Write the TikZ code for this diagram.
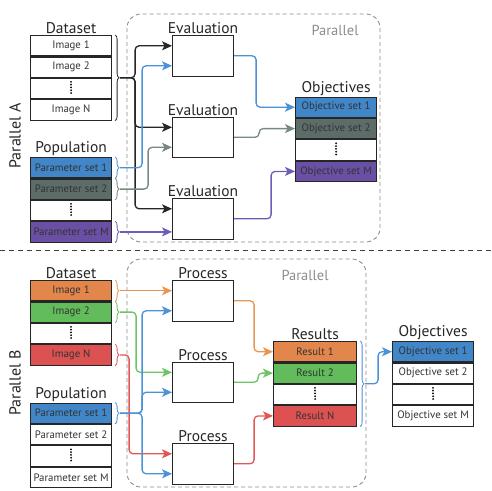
\documentclass[tikz,border=0pt]{standalone}
\usepackage{fontspec}
\setmainfont{PT Sans}
\usetikzlibrary{positioning,calc,arrows.meta,decorations.pathreplacing}
\definecolor{setblue}{RGB}{64,134,200}
\definecolor{setgray}{RGB}{92,108,104}
\definecolor{setpurple}{RGB}{106,80,164}
\definecolor{setorange}{RGB}{226,134,76}
\definecolor{setgreen}{RGB}{98,188,92}
\definecolor{setred}{RGB}{220,82,82}
\definecolor{lineblue}{RGB}{76,146,214}
\definecolor{linegray}{RGB}{122,136,132}
\definecolor{linepurple}{RGB}{112,92,182}
\definecolor{lineorange}{RGB}{232,150,82}
\definecolor{linegreen}{RGB}{108,196,100}
\definecolor{linered}{RGB}{226,86,86}
\tikzset{
	cell/.style={draw=black!85, line width=1.1pt, minimum width=81pt, minimum height=20.3pt, inner sep=0pt, font=\fontsize{10.8}{13}\selectfont, text=black!80},
	title/.style={font=\fontsize{15.5}{18}\selectfont, text=black!85, inner sep=1pt},
	procbox/.style={draw=black!85, line width=1.1pt, minimum width=61pt, minimum height=40.5pt, inner sep=0pt},
	link/.style={line width=1.3pt, rounded corners=4pt, -{Stealth[length=10pt,width=9pt,inset=2.5pt]}},
	brc/.style={decorate, decoration={brace, amplitude=4pt}, line width=0.8pt},
	dotline/.style={line width=2pt, line cap=round, dash pattern=on 0pt off 2.8pt},
	parbox/.style={draw=black!45, line width=0.9pt, rounded corners=14pt, dash pattern=on 4pt off 3pt},
}
\begin{document}
\begin{tikzpicture}[x=1pt,y=-1pt]
\useasboundingbox (0,0) rectangle (492,490);

% ---- Parallel A ----
\node[rotate=90, font=\fontsize{16}{19}\selectfont, text=black!85] (parA) at (15,136) {Parallel A};
\draw[parbox] (127,14) rectangle (380,242);
\node[font=\fontsize{14.5}{17}\selectfont, text=black!45] (parTa) at (335,30) {Parallel};

\node[cell, anchor=north west] (ds1) at (30,35) {Image 1};
\node[cell, below=0pt of ds1] (ds2) {Image 2};
\node[cell, below=0pt of ds2] (dsd) {};
\node[cell, below=0pt of dsd] (dsN) {Image N};
\node[title, above=0pt of ds1] (dsT) {Dataset};

\node[cell, fill=setblue, anchor=north west] (pop1) at (30,157) {Parameter set 1};
\node[cell, fill=setgray, below=0pt of pop1] (pop2) {Parameter set 2};
\node[cell, below=0pt of pop2] (popd) {};
\node[cell, fill=setpurple, below=0pt of popd] (popM) {Parameter set M};
\node[title, above=0pt of pop1] (popT) {Population};

\node[procbox, anchor=north west] (ev1) at (172,35) {};
\node[procbox, anchor=north west] (ev2) at (172,116.5) {};
\node[procbox, anchor=north west] (ev3) at (172,198) {};
\foreach \e in {ev1,ev2,ev3}
	\node[title, above=0pt of \e] (\e T) {Evaluation};

\node[cell, fill=setblue, anchor=north west] (obj1) at (295,96.5) {Objective set 1};
\node[cell, fill=setgray, below=0pt of obj1] (obj2) {Objective set 2};
\node[cell, below=0pt of obj2] (objd) {};
\node[cell, fill=setpurple, below=0pt of objd] (objM) {Objective set M};
\node[title, above=0pt of obj1] (objT) {Objectives};

\foreach \d in {dsd,popd,objd}
	\draw[dotline] ([yshift=-4pt]\d.north) -- ([yshift=4pt]\d.south);

% braces
\draw[brc, black!85] ([xshift=3pt]ds1.north east) -- ([xshift=3pt]dsN.south east);
\coordinate (dsb) at ($(ds1.north east)!.5!(dsN.south east)+(8,0)$);
\draw[brc, lineblue] ([xshift=3pt]pop1.north east) -- ([xshift=3pt]pop1.south east);
\coordinate (pb1) at ($(pop1.east)+(8,0)$);
\draw[brc, linegray] ([xshift=3pt]pop2.north east) -- ([xshift=3pt]pop2.south east);
\coordinate (pb2) at ($(pop2.east)+(8,0)$);
\draw[brc, linepurple] ([xshift=3pt]popM.north east) -- ([xshift=3pt]popM.south east);
\coordinate (pbM) at ($(popM.east)+(8,0)$);

\foreach \e in {ev1,ev2,ev3}
	\draw[link, black!85] (dsb) -- ++(15,0) |- ([yshift=10pt]\e.west);
\draw[link, lineblue] (pb1) -- ++(22,0) |- ([yshift=-10pt]ev1.west);
\draw[link, linegray] (pb2) -- ++(28,0) |- ([yshift=-10pt]ev2.west);
\draw[link, linepurple] (pbM) -- (pbM -| ev3.west);
\draw[link, lineblue] (ev1.east) -- ++(22,0) |- (obj1.west);
\draw[link, linegray] (ev2.east) -- ++(25,0) |- (obj2.west);
\draw[link, linepurple] (ev3.east) -- ++(37,0) |- (objM.west);

% divider
\draw[black!75, line width=1pt, dash pattern=on 5pt off 4pt] (0,250) -- (492,250);

% ---- Parallel B ----
\node[rotate=90, font=\fontsize{16}{19}\selectfont, text=black!85] (parB) at (15,383) {Parallel B};
\draw[parbox] (127,259) rectangle (366,487);
\node[font=\fontsize{14.5}{17}\selectfont, text=black!45] (parTb) at (305,275) {Parallel};

\node[cell, fill=setorange, anchor=north west] (bds1) at (30,280) {Image 1};
\node[cell, fill=setgreen, below=0pt of bds1] (bds2) {Image 2};
\node[cell, below=0pt of bds2] (bdsd) {};
\node[cell, fill=setred, below=0pt of bdsd] (bdsN) {Image N};
\node[title, above=0pt of bds1] (bdsT) {Dataset};

\node[cell, fill=setblue, anchor=north west] (bpop1) at (30,402.5) {Parameter set 1};
\node[cell, below=0pt of bpop1] (bpop2) {Parameter set 2};
\node[cell, below=0pt of bpop2] (bpopd) {};
\node[cell, below=0pt of bpopd] (bpopM) {Parameter set M};
\node[title, above=0pt of bpop1] (bpopT) {Population};

\node[procbox, anchor=north west] (pr1) at (172,280) {};
\node[procbox, anchor=north west] (pr2) at (172,361.5) {};
\node[procbox, anchor=north west] (pr3) at (172,443) {};
\foreach \p in {pr1,pr2,pr3}
	\node[title, above=0pt of \p] (\p T) {Process};

\node[cell, minimum width=83pt, fill=setorange, anchor=north west] (res1) at (273,341) {Result 1};
\node[cell, minimum width=83pt, fill=setgreen, below=0pt of res1] (res2) {Result 2};
\node[cell, minimum width=83pt, below=0pt of res2] (resd) {};
\node[cell, minimum width=83pt, fill=setred, below=0pt of resd] (resN) {Result N};
\node[title, above=0pt of res1] (resT) {Results};

\node[cell, fill=setblue, anchor=north west] (bobj1) at (392,341) {Objective set 1};
\node[cell, below=0pt of bobj1] (bobj2) {Objective set 2};
\node[cell, below=0pt of bobj2] (bobjd) {};
\node[cell, below=0pt of bobjd] (bobjM) {Objective set M};
\node[title, above=0pt of bobj1] (bobjT) {Objectives};

\foreach \d in {bdsd,bpopd,resd,bobjd}
	\draw[dotline] ([yshift=-4pt]\d.north) -- ([yshift=4pt]\d.south);

% braces
\draw[brc, lineorange] ([xshift=3pt]bds1.north east) -- ([xshift=3pt]bds1.south east);
\coordinate (bb1) at ($(bds1.east)+(8,0)$);
\draw[brc, linegreen] ([xshift=3pt]bds2.north east) -- ([xshift=3pt]bds2.south east);
\coordinate (bb2) at ($(bds2.east)+(8,0)$);
\draw[brc, linered] ([xshift=3pt]bdsN.north east) -- ([xshift=3pt]bdsN.south east);
\coordinate (bbN) at ($(bdsN.east)+(8,0)$);
\draw[brc, lineblue] ([xshift=3pt]bpop1.north east) -- ([xshift=3pt]bpop1.south east);
\coordinate (bpb1) at ($(bpop1.east)+(8,0)$);
\draw[brc, lineblue] ([xshift=3pt]res1.north east) -- ([xshift=3pt]resN.south east);
\coordinate (rb) at ($(res1.north east)!.5!(resN.south east)+(8,0)$);

\draw[link, lineorange] (bb1) -- (bb1 -| pr1.west);
\draw[link, linegreen] (bb2) -- ++(16,0) |- ([yshift=10pt]pr2.west);
\draw[link, linered] (bbN) -- ++(9,0) |- ([yshift=10pt]pr3.west);
\foreach \p in {pr1,pr2,pr3}
	\draw[link, lineblue] (bpb1) -- ++(22,0) |- ([yshift=-10pt]\p.west);
\draw[link, lineorange] (pr1.east) -- ++(20,0) |- (res1.west);
\draw[link, linegreen] (pr2.east) -- ++(24,0) |- (res2.west);
\draw[link, linered] (pr3.east) -- ++(20,0) |- (resN.west);
\draw[link, lineblue] (rb) -- ++(13,0) |- (bobj1.west);
\end{tikzpicture}
\end{document}
